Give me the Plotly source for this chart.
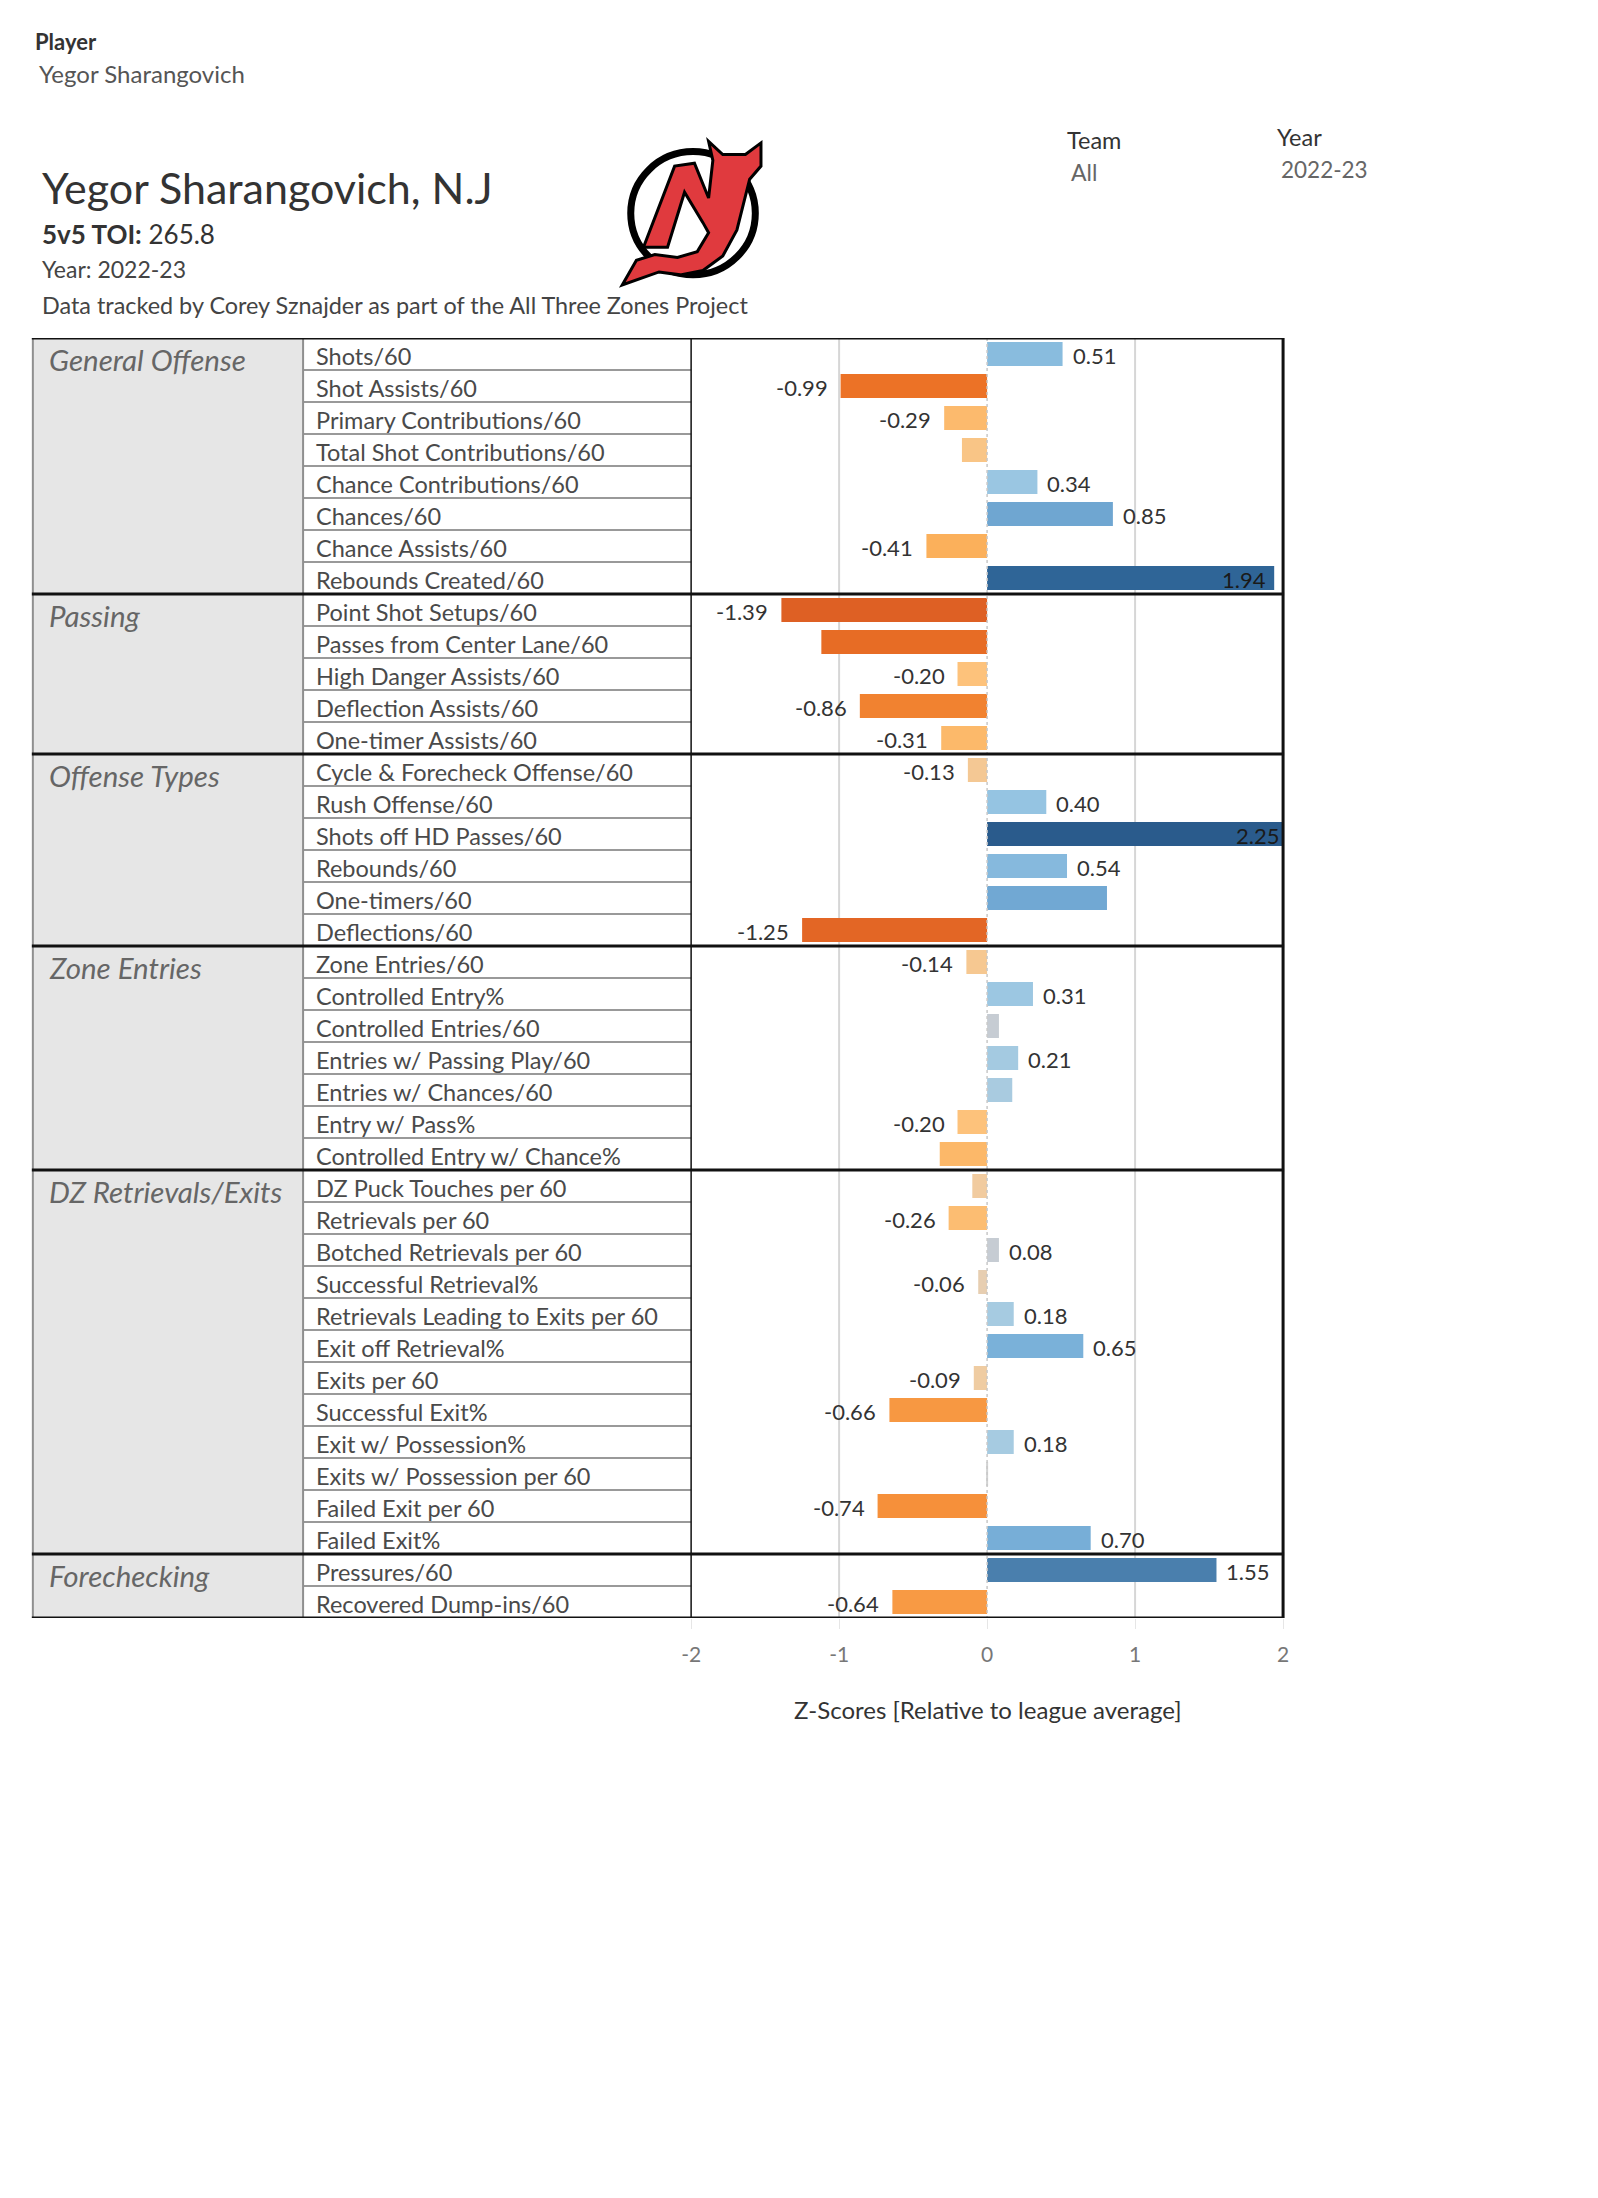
import plotly.graph_objects as go

# Page has an 8px body margin: work in viewport pixels and convert.
VW, VH = 1598, 2198
OFF = 8
FW, FH = VW - 2 * OFF, VH - 2 * OFF
FONT = "Lato"

# ---------------- data ----------------
groups = ["General Offense", "Passing", "Offense Types", "Zone Entries",
          "DZ Retrievals/Exits", "Forechecking"]
group_sizes = [8, 5, 6, 7, 12, 2]

metrics = [
    "Shots/60", "Shot Assists/60", "Primary Contributions/60", "Total Shot Contributions/60",
    "Chance Contributions/60", "Chances/60", "Chance Assists/60", "Rebounds Created/60",
    "Point Shot Setups/60", "Passes from Center Lane/60", "High Danger Assists/60",
    "Deflection Assists/60", "One-timer Assists/60",
    "Cycle & Forecheck Offense/60", "Rush Offense/60", "Shots off HD Passes/60",
    "Rebounds/60", "One-timers/60", "Deflections/60",
    "Zone Entries/60", "Controlled Entry%", "Controlled Entries/60",
    "Entries w/ Passing Play/60", "Entries w/ Chances/60", "Entry w/ Pass%",
    "Controlled Entry w/ Chance%",
    "DZ Puck Touches per 60", "Retrievals per 60", "Botched Retrievals per 60",
    "Successful Retrieval%", "Retrievals Leading to Exits per 60", "Exit off Retrieval%",
    "Exits per 60", "Successful Exit%", "Exit w/ Possession%", "Exits w/ Possession per 60",
    "Failed Exit per 60", "Failed Exit%",
    "Pressures/60", "Recovered Dump-ins/60",
]
zscores = [
    0.51, -0.99, -0.29, -0.17, 0.34, 0.85, -0.41, 1.94,
    -1.39, -1.12, -0.20, -0.86, -0.31,
    -0.13, 0.40, 2.25, 0.54, 0.81, -1.25,
    -0.14, 0.31, 0.08, 0.21, 0.17, -0.20, -0.32,
    -0.10, -0.26, 0.08, -0.06, 0.18, 0.65, -0.09, -0.66, 0.18, 0.005, -0.74, 0.70,
    1.55, -0.64,
]
show_label = [
    True, True, True, False, True, True, True, True,
    True, False, True, True, True,
    True, True, True, True, False, True,
    True, True, False, True, False, True, False,
    False, True, True, True, True, True, True, True, True, False, True, True,
    True, True,
]
x_ticks = [-2, -1, 0, 1, 2]
x_tick_text = ["-2", "-1", "0", "1", "2"]

# ---------------- helpers ----------------
def X(v):
    return (v - OFF) / FW

def Y(v):
    return 1 - (v - OFF) / FH

TOP, BOTTOM = 338, 1618
LEFT, CATR, LABR, RIGHT = 23, 296, 688, 1286
XMIN, XMAX = -2, 2
n = len(metrics)
rows = list(range(n))

# Diverging orange-blue colour scale (value stops)
cmin, cmax = -2.25, 2.25
stops = [(-2.25, "#c4501a"), (-1.39, "#de6024"), (-0.99, "#ec7226"), (-0.74, "#f6903a"),
         (-0.41, "#fbb05b"), (-0.20, "#fdc27b"), (-0.08, "#eecda6"), (0.0, "#d2d2d2"),
         (0.08, "#c6ccd3"), (0.18, "#a6cbe1"), (0.40, "#95c4e2"), (0.65, "#7ab1d9"),
         (0.85, "#6fa6d1"), (1.55, "#4a7fad"), (1.94, "#2f6597"), (2.25, "#2a5b8c")]
colorscale = [[(v - cmin) / (cmax - cmin), c] for v, c in stops]

fig = go.Figure(go.Bar(
    x=zscores, y=rows, orientation="h",
    marker=dict(color=zscores, colorscale=colorscale, cmin=cmin, cmax=cmax, line=dict(width=0)),
    hoverinfo="skip",
))

shapes = []
annotations = []

# category column fill
shapes.append(dict(type="rect", xref="paper", yref="y", x0=X(LEFT), x1=X(CATR),
                   y0=-0.5, y1=n - 0.5, fillcolor="#e6e6e6", line=dict(width=0), layer="below"))
# gridlines at -1, 1
for g in x_ticks:
    if g in (-1, 1):
        shapes.append(dict(type="line", xref="x", yref="y", x0=g, x1=g, y0=-0.5, y1=n - 0.5,
                           line=dict(color="#d6d6d6", width=2), layer="below"))
# zero line (dotted)
shapes.append(dict(type="line", xref="x", yref="y", x0=0, x1=0, y0=-0.5, y1=n - 0.5,
                   line=dict(color="#c8c8c8", width=1.5, dash="dot"), layer="above"))

# group boundaries
starts = []
s = 0
for g in group_sizes:
    starts.append(s)
    s += g
boundaries = set(st - 0.5 for st in starts[1:])

# label row separators (gray)
for i in range(1, n):
    b = i - 0.5
    if b not in boundaries:
        shapes.append(dict(type="line", xref="paper", yref="y", x0=X(CATR), x1=X(LABR),
                           y0=b, y1=b, line=dict(color="#999999", width=2), layer="above"))
# vertical gray lines
for xx in (LEFT, CATR):
    shapes.append(dict(type="line", xref="paper", yref="y", x0=X(xx), x1=X(xx),
                       y0=-0.5, y1=n - 0.5, line=dict(color="#8f8f8f", width=2), layer="above"))
# chart frame left (thin black) and right (thick black)
shapes.append(dict(type="line", xref="paper", yref="y", x0=X(LABR), x1=X(LABR),
                   y0=-0.5, y1=n - 0.5, line=dict(color="#111111", width=1.5), layer="above"))
shapes.append(dict(type="line", xref="paper", yref="y", x0=X(RIGHT), x1=X(RIGHT),
                   y0=-0.5, y1=n - 0.5, line=dict(color="#111111", width=3), layer="above"))
# group separators + top/bottom (black)
for b in sorted(boundaries) + [-0.5, n - 0.5]:
    shapes.append(dict(type="line", xref="paper", yref="y", x0=X(LEFT - 1), x1=X(RIGHT + 1),
                       y0=b, y1=b, line=dict(color="#111111", width=3), layer="above"))

# row labels
for i, m in enumerate(metrics):
    annotations.append(dict(xref="paper", yref="y", x=X(CATR + 11), y=i, text=m,
                            showarrow=False, xanchor="left", yanchor="middle", yshift=-2,
                            font=dict(family=FONT, size=23.5, color="#4a4a4a")))
# group labels
for g, st in zip(groups, starts):
    annotations.append(dict(xref="paper", yref="y", x=X(LEFT + 14), y=st,
                            text=f"<i>{g}</i>", showarrow=False, xanchor="left",
                            yanchor="middle", yshift=-5,
                            font=dict(family=FONT, size=29.5, color="#666666")))

# value labels (through the x/y axes)
for i, (v, sh) in enumerate(zip(zscores, show_label)):
    if not sh:
        continue
    txt = f"{v:.2f}"
    if v > 1.8:  # label drawn at the end inside the bar (clipped to the axis end)
        annotations.append(dict(xref="x", yref="y", x=min(v, XMAX), y=i, text=txt,
                                showarrow=False, xanchor="right", yanchor="middle",
                                xshift=-6 if v < XMAX else -2, yshift=-1,
                                font=dict(family=FONT, size=22, color="#1a1a1a")))
    elif v >= 0:
        annotations.append(dict(xref="x", yref="y", x=v, y=i, text=txt, showarrow=False,
                                xanchor="left", yanchor="middle", xshift=8, yshift=-1,
                                font=dict(family=FONT, size=22, color="#333333")))
    else:
        annotations.append(dict(xref="x", yref="y", x=v, y=i, text=txt, showarrow=False,
                                xanchor="right", yanchor="middle", xshift=-11, yshift=-1,
                                font=dict(family=FONT, size=22, color="#333333")))

# header texts
def head(x, y, text, size, color):
    annotations.append(dict(xref="paper", yref="paper", x=X(x), y=Y(y), text=text,
                            showarrow=False, xanchor="left", yanchor="middle",
                            font=dict(family=FONT, size=size, color=color)))

head(23, 42, "<b>Player</b>", 22, "#333333")
head(27, 74, "Yegor Sharangovich", 24, "#555555")
head(30, 188, "Yegor Sharangovich, N.J", 43, "#333333")
head(30, 234, "<b>5v5 TOI:</b> 265.8", 26, "#333333")
head(30, 269, "Year: 2022-23", 23, "#444444")
head(30, 305, "Data tracked by Corey Sznajder as part of the All Three Zones Project", 23.4, "#444444")
head(1066, 140, "Team", 23.5, "#333333")
head(1070, 172, "All", 23, "#666666")
head(1278, 137, "Year", 23.5, "#333333")
head(1282, 170, "2022-23", 22.5, "#666666")

# axis title
annotations.append(dict(xref="paper", yref="paper", x=X((LABR + RIGHT) / 2), y=Y(1709),
                        text="Z-Scores [Relative to league average]", showarrow=False,
                        xanchor="center", yanchor="middle",
                        font=dict(family=FONT, size=24, color="#333333")))

# ---------------- logo (drawn) ----------------
def lp(u, v):
    return X(617 + u * 1.43), Y(140 + v * 1.45)

cx0, cy0 = lp(7, 93)
cx1, cy1 = lp(95, 8)
shapes.append(dict(type="circle", xref="paper", yref="paper", x0=cx0, x1=cx1, y0=cy0, y1=cy1,
                   fillcolor="white", line=dict(color="black", width=7), layer="above"))
poly = [(16, 74), (38, 18), (52, 16), (62, 40), (65, 14), (62, 1), (72, 10), (88, 10),
        (99, 2), (99, 18), (91, 27), (82, 62), (72, 80), (58, 90), (42, 93), (27, 91),
        (1, 100), (11, 83), (24, 79), (40, 81), (54, 77), (62, 64), (58, 57), (45, 36),
        (33, 74)]
path = "M " + " L ".join("{:.5f},{:.5f}".format(*lp(u, v)) for u, v in poly) + " Z"
shapes.append(dict(type="path", xref="paper", yref="paper", path=path,
                   fillcolor="#e03a3e", line=dict(color="black", width=3), layer="above"))

fig.update_layout(
    width=FW, height=FH, margin=dict(l=0, r=0, t=0, b=0),
    paper_bgcolor="white", plot_bgcolor="white", showlegend=False,
    bargap=0.25,
    xaxis=dict(domain=[X(LABR), X(RIGHT)], range=[XMIN, XMAX], tickvals=x_ticks,
               ticktext=x_tick_text, showgrid=False, zeroline=False, showline=False,
               ticks="outside", ticklen=10, tickwidth=1, tickcolor="#e6e6e6",
               ticklabelstandoff=8,
               tickfont=dict(family=FONT, size=21, color="#777777"), fixedrange=True),
    yaxis=dict(domain=[Y(BOTTOM), Y(TOP)], range=[n - 0.5, -0.5], showticklabels=False,
               showgrid=False, zeroline=False, showline=False, ticks="", fixedrange=True),
    shapes=shapes, annotations=annotations,
)

fig.write_html("out.html")
